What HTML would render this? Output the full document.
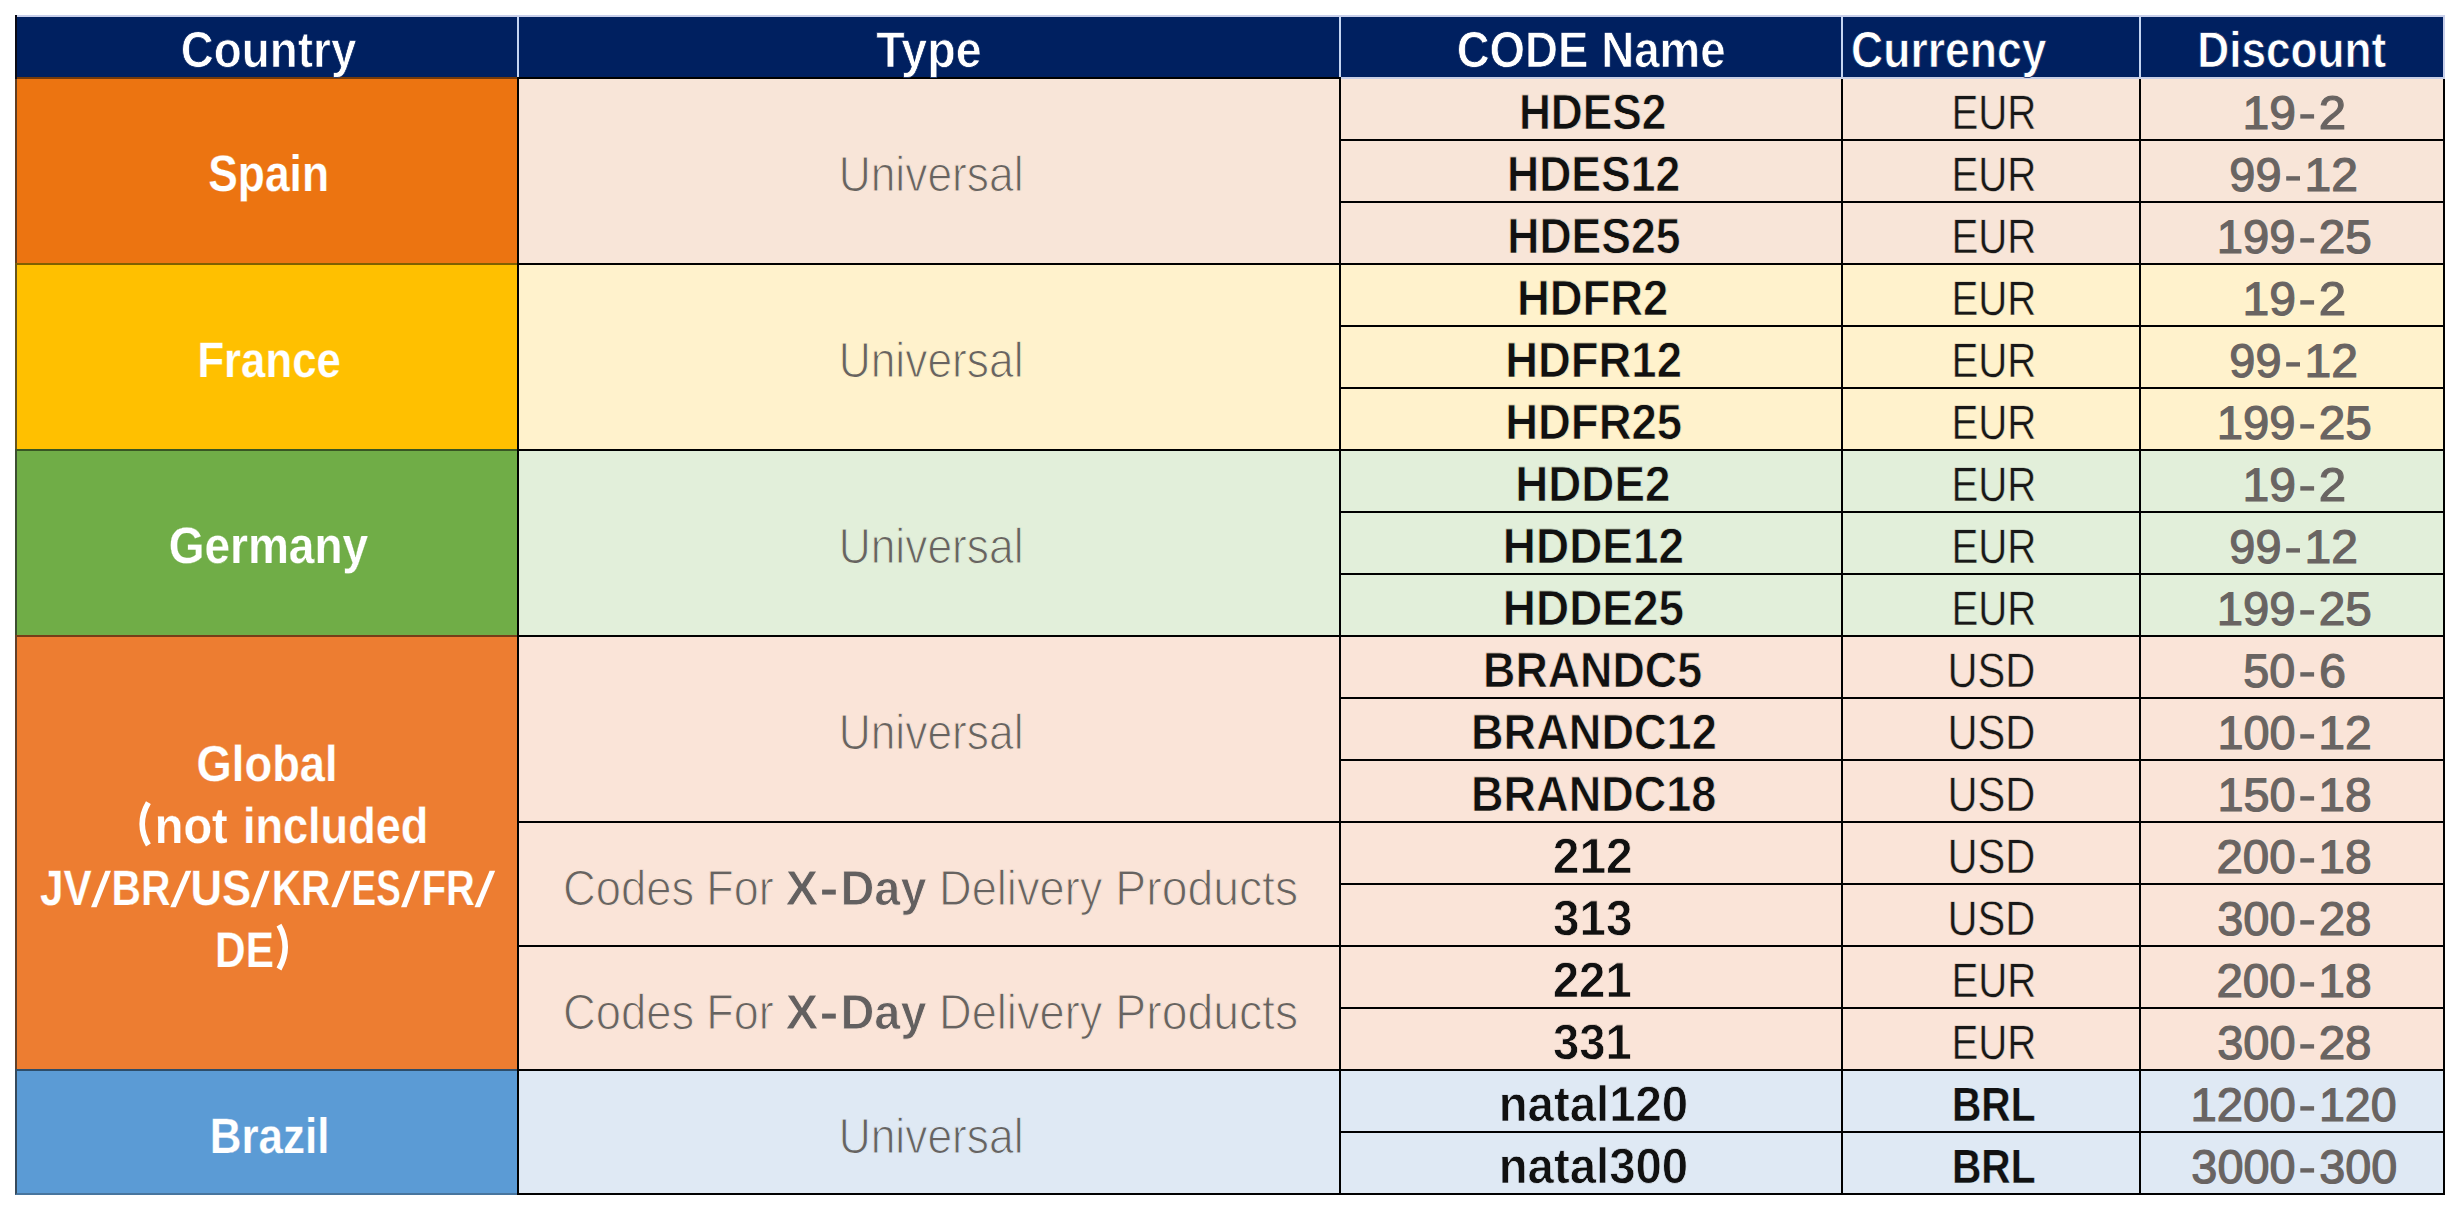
<!DOCTYPE html><html><head><meta charset="utf-8"><title>Discount codes</title><style>html,body{margin:0;padding:0;background:#fff;width:2460px;height:1210px;overflow:hidden}.r{position:absolute}svg text{font-family:"Liberation Sans",sans-serif;text-rendering:geometricPrecision}</style></head><body>
<div class="r" style="left:15px;top:15px;width:2430px;height:64px;background:#002060;"></div>
<div class="r" style="left:15px;top:77px;width:502px;height:188px;background:#EC7411;box-sizing:border-box;border:2px solid rgba(0,0,0,.5);border-left-color:rgba(40,40,40,.7);border-bottom-color:rgba(0,0,0,.5);border-right:none"></div>
<div class="r" style="left:517px;top:77px;width:1928px;height:188px;background:#F8E5D8;"></div>
<div class="r" style="left:15px;top:263px;width:502px;height:188px;background:#FFC000;box-sizing:border-box;border:2px solid rgba(0,0,0,.5);border-left-color:rgba(40,40,40,.7);border-bottom-color:rgba(0,0,0,.5);border-right:none"></div>
<div class="r" style="left:517px;top:263px;width:1928px;height:188px;background:#FFF2CC;"></div>
<div class="r" style="left:15px;top:449px;width:502px;height:188px;background:#70AD47;box-sizing:border-box;border:2px solid rgba(0,0,0,.5);border-left-color:rgba(40,40,40,.7);border-bottom-color:rgba(0,0,0,.5);border-right:none"></div>
<div class="r" style="left:517px;top:449px;width:1928px;height:188px;background:#E2EFDA;"></div>
<div class="r" style="left:15px;top:635px;width:502px;height:436px;background:#ED7D31;box-sizing:border-box;border:2px solid rgba(0,0,0,.5);border-left-color:rgba(40,40,40,.7);border-bottom-color:rgba(0,0,0,.5);border-right:none"></div>
<div class="r" style="left:517px;top:635px;width:1928px;height:436px;background:#FAE4D8;"></div>
<div class="r" style="left:15px;top:1069px;width:502px;height:126px;background:#5B9BD5;box-sizing:border-box;border:2px solid rgba(0,0,0,.5);border-left-color:rgba(40,40,40,.7);border-bottom-color:rgba(30,30,30,.3);border-right:none"></div>
<div class="r" style="left:517px;top:1069px;width:1928px;height:126px;background:#DFE9F4;"></div>
<div class="r" style="left:17px;top:15px;width:2428px;height:2px;background:#C8CFEA;"></div>
<div class="r" style="left:15px;top:15px;width:2px;height:64px;background:#0a0a14;"></div>
<div class="r" style="left:517px;top:17px;width:2px;height:60px;background:#C5D5F2;"></div>
<div class="r" style="left:1339px;top:17px;width:2px;height:60px;background:#C5D5F2;"></div>
<div class="r" style="left:1841px;top:17px;width:2px;height:60px;background:#C5D5F2;"></div>
<div class="r" style="left:2139px;top:17px;width:2px;height:60px;background:#C5D5F2;"></div>
<div class="r" style="left:2443px;top:15px;width:2px;height:64px;background:#C8CFEA;"></div>
<div class="r" style="left:517px;top:77px;width:824px;height:2px;background:#000;"></div>
<div class="r" style="left:1341px;top:77px;width:1104px;height:2px;background:#C9CFE6;"></div>
<div class="r" style="left:517px;top:77px;width:2px;height:1118px;background:#000;"></div>
<div class="r" style="left:1339px;top:77px;width:2px;height:1118px;background:#000;"></div>
<div class="r" style="left:1841px;top:79px;width:2px;height:1116px;background:#000;"></div>
<div class="r" style="left:2139px;top:79px;width:2px;height:1116px;background:#000;"></div>
<div class="r" style="left:2443px;top:79px;width:2px;height:1116px;background:#000;"></div>
<div class="r" style="left:517px;top:263px;width:824px;height:2px;background:#000;"></div>
<div class="r" style="left:517px;top:449px;width:824px;height:2px;background:#000;"></div>
<div class="r" style="left:517px;top:635px;width:824px;height:2px;background:#000;"></div>
<div class="r" style="left:517px;top:821px;width:824px;height:2px;background:#000;"></div>
<div class="r" style="left:517px;top:945px;width:824px;height:2px;background:#000;"></div>
<div class="r" style="left:517px;top:1069px;width:824px;height:2px;background:#000;"></div>
<div class="r" style="left:517px;top:1193px;width:824px;height:2px;background:#000;"></div>
<div class="r" style="left:1339px;top:139px;width:1106px;height:2px;background:#000;"></div>
<div class="r" style="left:1339px;top:201px;width:1106px;height:2px;background:#000;"></div>
<div class="r" style="left:1339px;top:263px;width:1106px;height:2px;background:#000;"></div>
<div class="r" style="left:1339px;top:325px;width:1106px;height:2px;background:#000;"></div>
<div class="r" style="left:1339px;top:387px;width:1106px;height:2px;background:#000;"></div>
<div class="r" style="left:1339px;top:449px;width:1106px;height:2px;background:#000;"></div>
<div class="r" style="left:1339px;top:511px;width:1106px;height:2px;background:#000;"></div>
<div class="r" style="left:1339px;top:573px;width:1106px;height:2px;background:#000;"></div>
<div class="r" style="left:1339px;top:635px;width:1106px;height:2px;background:#000;"></div>
<div class="r" style="left:1339px;top:697px;width:1106px;height:2px;background:#000;"></div>
<div class="r" style="left:1339px;top:759px;width:1106px;height:2px;background:#000;"></div>
<div class="r" style="left:1339px;top:821px;width:1106px;height:2px;background:#000;"></div>
<div class="r" style="left:1339px;top:883px;width:1106px;height:2px;background:#000;"></div>
<div class="r" style="left:1339px;top:945px;width:1106px;height:2px;background:#000;"></div>
<div class="r" style="left:1339px;top:1007px;width:1106px;height:2px;background:#000;"></div>
<div class="r" style="left:1339px;top:1069px;width:1106px;height:2px;background:#000;"></div>
<div class="r" style="left:1339px;top:1131px;width:1106px;height:2px;background:#000;"></div>
<div class="r" style="left:1339px;top:1193px;width:1106px;height:2px;background:#000;"></div>
<svg class="r" style="left:0;top:0" width="2460" height="1210">
<text transform="translate(180.71,67.00) scale(0.9076,1)" font-size="50.51" font-weight="700" fill="#FFFFFF" stroke="#002060" stroke-width="0.75">Country</text>
<text transform="translate(876.33,67.00) scale(0.9228,1)" font-size="50.51" font-weight="700" fill="#FFFFFF" stroke="#002060" stroke-width="0.75">Type</text>
<text transform="translate(1456.63,67.00) scale(0.9041,1)" font-size="50.51" font-weight="700" fill="#FFFFFF" stroke="#002060" stroke-width="0.75">CODE Name</text>
<text transform="translate(1851.12,67.00) scale(0.8810,1)" font-size="50.51" font-weight="700" fill="#FFFFFF" stroke="#002060" stroke-width="0.75">Currency</text>
<text transform="translate(2197.26,67.00) scale(0.8748,1)" font-size="50.51" font-weight="700" fill="#FFFFFF" stroke="#002060" stroke-width="0.75">Discount</text>
<text transform="translate(208.19,191.40) scale(0.8675,1)" font-size="51.16" font-weight="700" fill="#FFFFFF" stroke="#EC7411" stroke-width="0.25">Spain</text>
<text transform="translate(197.41,377.10) scale(0.8794,1)" font-size="49.71" font-weight="700" fill="#FFFFFF" stroke="#FFC000" stroke-width="0.25">France</text>
<text transform="translate(168.73,563.20) scale(0.8990,1)" font-size="51.16" font-weight="700" fill="#FFFFFF" stroke="#70AD47" stroke-width="0.25">Germany</text>
<text transform="translate(196.60,780.80) scale(0.8989,1)" font-size="50.44" font-weight="700" fill="#FFFFFF" stroke="#ED7D31" stroke-width="0.25">Global</text>
<text transform="translate(154.79,842.90) scale(0.9283,1)" font-size="50.44" font-weight="700" fill="#FFFFFF" stroke="#ED7D31" stroke-width="0.25">not</text>
<text transform="translate(242.89,842.90) scale(0.8943,1)" font-size="50.44" font-weight="700" fill="#FFFFFF" stroke="#ED7D31" stroke-width="0.25">included</text>
<text transform="translate(40.08,904.80) scale(0.8516,1)" font-size="49.71" font-weight="700" fill="#FFFFFF" stroke="#ED7D31" stroke-width="0.25">JV</text>
<text transform="translate(111.62,904.80) scale(0.8215,1)" font-size="49.71" font-weight="700" fill="#FFFFFF" stroke="#ED7D31" stroke-width="0.25">BR</text>
<text transform="translate(190.52,904.80) scale(0.8797,1)" font-size="49.71" font-weight="700" fill="#FFFFFF" stroke="#ED7D31" stroke-width="0.25">US</text>
<text transform="translate(271.66,904.80) scale(0.8171,1)" font-size="49.71" font-weight="700" fill="#FFFFFF" stroke="#ED7D31" stroke-width="0.25">KR</text>
<text transform="translate(351.55,904.80) scale(0.7415,1)" font-size="49.71" font-weight="700" fill="#FFFFFF" stroke="#ED7D31" stroke-width="0.25">ES</text>
<text transform="translate(421.77,904.80) scale(0.8006,1)" font-size="49.71" font-weight="700" fill="#FFFFFF" stroke="#ED7D31" stroke-width="0.25">FR</text>
<text transform="translate(215.07,967.30) scale(0.8481,1)" font-size="50.00" font-weight="700" fill="#FFFFFF" stroke="#ED7D31" stroke-width="0.25">DE</text>
<text transform="translate(209.68,1152.90) scale(0.8841,1)" font-size="49.71" font-weight="700" fill="#FFFFFF" stroke="#5B9BD5" stroke-width="0.25">Brazil</text>
<text transform="translate(838.63,191.00) scale(0.8954,1)" font-size="49.56" font-weight="400" fill="#676361" stroke="#F8E5D8" stroke-width="1.1">Universal</text>
<text transform="translate(838.63,377.00) scale(0.8954,1)" font-size="49.56" font-weight="400" fill="#676361" stroke="#FFF2CC" stroke-width="1.1">Universal</text>
<text transform="translate(838.63,563.00) scale(0.8954,1)" font-size="49.56" font-weight="400" fill="#676361" stroke="#E2EFDA" stroke-width="1.1">Universal</text>
<text transform="translate(838.63,749.00) scale(0.8954,1)" font-size="49.56" font-weight="400" fill="#676361" stroke="#FAE4D8" stroke-width="1.1">Universal</text>
<text transform="translate(838.63,1153.00) scale(0.8954,1)" font-size="49.56" font-weight="400" fill="#676361" stroke="#DFE9F4" stroke-width="1.1">Universal</text>
<text transform="translate(562.90,904.80) scale(0.9164,1)" font-size="49.56" font-weight="400" fill="#676361" stroke="#FAE4D8" stroke-width="1.1">Codes</text>
<text transform="translate(706.37,904.80) scale(0.9055,1)" font-size="49.56" font-weight="400" fill="#676361" stroke="#FAE4D8" stroke-width="1.1">For</text>
<text transform="translate(785.50,904.80) scale(1.0007,1)" font-size="49.27" font-weight="700" fill="#636060" stroke="#FAE4D8" stroke-width="0.9">X</text>
<text transform="translate(840.44,904.80) scale(0.9532,1)" font-size="49.27" font-weight="700" fill="#636060" stroke="#FAE4D8" stroke-width="0.9">Day</text>
<text transform="translate(939.02,904.80) scale(0.9126,1)" font-size="49.56" font-weight="400" fill="#676361" stroke="#FAE4D8" stroke-width="1.1">Delivery</text>
<text transform="translate(1115.32,904.80) scale(0.9346,1)" font-size="49.56" font-weight="400" fill="#676361" stroke="#FAE4D8" stroke-width="1.1">Products</text>
<text transform="translate(562.90,1028.80) scale(0.9164,1)" font-size="49.56" font-weight="400" fill="#676361" stroke="#FAE4D8" stroke-width="1.1">Codes</text>
<text transform="translate(706.37,1028.80) scale(0.9055,1)" font-size="49.56" font-weight="400" fill="#676361" stroke="#FAE4D8" stroke-width="1.1">For</text>
<text transform="translate(785.50,1028.80) scale(1.0007,1)" font-size="49.27" font-weight="700" fill="#636060" stroke="#FAE4D8" stroke-width="0.9">X</text>
<text transform="translate(840.44,1028.80) scale(0.9532,1)" font-size="49.27" font-weight="700" fill="#636060" stroke="#FAE4D8" stroke-width="0.9">Day</text>
<text transform="translate(939.02,1028.80) scale(0.9126,1)" font-size="49.56" font-weight="400" fill="#676361" stroke="#FAE4D8" stroke-width="1.1">Delivery</text>
<text transform="translate(1115.32,1028.80) scale(0.9346,1)" font-size="49.56" font-weight="400" fill="#676361" stroke="#FAE4D8" stroke-width="1.1">Products</text>
<text transform="translate(1518.88,128.90) scale(0.8894,1)" font-size="49.78" font-weight="700" fill="#111111" stroke="#F8E5D8" stroke-width="0.75">HDES2</text>
<text transform="translate(1507.02,190.90) scale(0.8950,1)" font-size="49.78" font-weight="700" fill="#111111" stroke="#F8E5D8" stroke-width="0.75">HDES12</text>
<text transform="translate(1507.26,252.90) scale(0.8953,1)" font-size="49.78" font-weight="700" fill="#111111" stroke="#F8E5D8" stroke-width="0.75">HDES25</text>
<text transform="translate(1516.98,314.90) scale(0.9126,1)" font-size="49.78" font-weight="700" fill="#111111" stroke="#FFF2CC" stroke-width="0.75">HDFR2</text>
<text transform="translate(1505.15,376.90) scale(0.9132,1)" font-size="49.78" font-weight="700" fill="#111111" stroke="#FFF2CC" stroke-width="0.75">HDFR12</text>
<text transform="translate(1505.15,438.90) scale(0.9140,1)" font-size="49.78" font-weight="700" fill="#111111" stroke="#FFF2CC" stroke-width="0.75">HDFR25</text>
<text transform="translate(1515.18,500.90) scale(0.9201,1)" font-size="49.78" font-weight="700" fill="#111111" stroke="#E2EFDA" stroke-width="0.75">HDDE2</text>
<text transform="translate(1502.81,562.90) scale(0.9227,1)" font-size="49.78" font-weight="700" fill="#111111" stroke="#E2EFDA" stroke-width="0.75">HDDE12</text>
<text transform="translate(1502.81,624.90) scale(0.9227,1)" font-size="49.78" font-weight="700" fill="#111111" stroke="#E2EFDA" stroke-width="0.75">HDDE25</text>
<text transform="translate(1483.04,686.90) scale(0.9001,1)" font-size="49.78" font-weight="700" fill="#111111" stroke="#FAE4D8" stroke-width="0.75">BRANDC5</text>
<text transform="translate(1471.00,748.90) scale(0.9070,1)" font-size="49.78" font-weight="700" fill="#111111" stroke="#FAE4D8" stroke-width="0.75">BRANDC12</text>
<text transform="translate(1471.01,810.90) scale(0.9055,1)" font-size="49.78" font-weight="700" fill="#111111" stroke="#FAE4D8" stroke-width="0.75">BRANDC18</text>
<text transform="translate(1552.71,872.90) scale(0.9635,1)" font-size="49.78" font-weight="700" fill="#111111" stroke="#FAE4D8" stroke-width="0.75">212</text>
<text transform="translate(1552.89,934.90) scale(0.9574,1)" font-size="49.78" font-weight="700" fill="#111111" stroke="#FAE4D8" stroke-width="0.75">313</text>
<text transform="translate(1552.74,996.90) scale(0.9528,1)" font-size="49.78" font-weight="700" fill="#111111" stroke="#FAE4D8" stroke-width="0.75">221</text>
<text transform="translate(1552.91,1058.90) scale(0.9486,1)" font-size="49.78" font-weight="700" fill="#111111" stroke="#FAE4D8" stroke-width="0.75">331</text>
<text transform="translate(1498.68,1120.90) scale(0.9514,1)" font-size="49.78" font-weight="700" fill="#111111" stroke="#DFE9F4" stroke-width="0.75">natal120</text>
<text transform="translate(1498.68,1182.90) scale(0.9514,1)" font-size="49.78" font-weight="700" fill="#111111" stroke="#DFE9F4" stroke-width="0.75">natal300</text>
<text transform="translate(1951.40,128.90) scale(0.8317,1)" font-size="48.40" font-weight="400" fill="#181818" stroke="#F8E5D8" stroke-width="0.5">EUR</text>
<text transform="translate(1951.40,190.90) scale(0.8317,1)" font-size="48.40" font-weight="400" fill="#181818" stroke="#F8E5D8" stroke-width="0.5">EUR</text>
<text transform="translate(1951.40,252.90) scale(0.8317,1)" font-size="48.40" font-weight="400" fill="#181818" stroke="#F8E5D8" stroke-width="0.5">EUR</text>
<text transform="translate(1951.40,314.90) scale(0.8317,1)" font-size="48.40" font-weight="400" fill="#181818" stroke="#FFF2CC" stroke-width="0.5">EUR</text>
<text transform="translate(1951.40,376.90) scale(0.8317,1)" font-size="48.40" font-weight="400" fill="#181818" stroke="#FFF2CC" stroke-width="0.5">EUR</text>
<text transform="translate(1951.40,438.90) scale(0.8317,1)" font-size="48.40" font-weight="400" fill="#181818" stroke="#FFF2CC" stroke-width="0.5">EUR</text>
<text transform="translate(1951.40,500.90) scale(0.8317,1)" font-size="48.40" font-weight="400" fill="#181818" stroke="#E2EFDA" stroke-width="0.5">EUR</text>
<text transform="translate(1951.40,562.90) scale(0.8317,1)" font-size="48.40" font-weight="400" fill="#181818" stroke="#E2EFDA" stroke-width="0.5">EUR</text>
<text transform="translate(1951.40,624.90) scale(0.8317,1)" font-size="48.40" font-weight="400" fill="#181818" stroke="#E2EFDA" stroke-width="0.5">EUR</text>
<text transform="translate(1947.43,686.90) scale(0.8612,1)" font-size="48.40" font-weight="400" fill="#181818" stroke="#FAE4D8" stroke-width="0.5">USD</text>
<text transform="translate(1947.43,748.90) scale(0.8612,1)" font-size="48.40" font-weight="400" fill="#181818" stroke="#FAE4D8" stroke-width="0.5">USD</text>
<text transform="translate(1947.43,810.90) scale(0.8612,1)" font-size="48.40" font-weight="400" fill="#181818" stroke="#FAE4D8" stroke-width="0.5">USD</text>
<text transform="translate(1947.43,872.90) scale(0.8612,1)" font-size="48.40" font-weight="400" fill="#181818" stroke="#FAE4D8" stroke-width="0.5">USD</text>
<text transform="translate(1947.43,934.90) scale(0.8612,1)" font-size="48.40" font-weight="400" fill="#181818" stroke="#FAE4D8" stroke-width="0.5">USD</text>
<text transform="translate(1951.40,996.90) scale(0.8317,1)" font-size="48.40" font-weight="400" fill="#181818" stroke="#FAE4D8" stroke-width="0.5">EUR</text>
<text transform="translate(1951.40,1058.90) scale(0.8317,1)" font-size="48.40" font-weight="400" fill="#181818" stroke="#FAE4D8" stroke-width="0.5">EUR</text>
<text transform="translate(1952.04,1120.90) scale(0.8440,1)" font-size="48.11" font-weight="700" fill="#111111" stroke="#DFE9F4" stroke-width="0.3">BRL</text>
<text transform="translate(1952.04,1182.90) scale(0.8440,1)" font-size="48.11" font-weight="700" fill="#111111" stroke="#DFE9F4" stroke-width="0.3">BRL</text>
<text transform="translate(2242.57,128.90) scale(1.0204,1)" font-size="47.09" font-weight="400" fill="#696462" stroke="#696462" stroke-width="1.2">19</text>
<text transform="translate(2318.66,128.90) scale(1.0447,1)" font-size="47.09" font-weight="400" fill="#696462" stroke="#696462" stroke-width="1.2">2</text>
<text transform="translate(2229.36,190.90) scale(0.9950,1)" font-size="47.09" font-weight="400" fill="#696462" stroke="#696462" stroke-width="1.2">99</text>
<text transform="translate(2304.59,190.90) scale(1.0200,1)" font-size="47.09" font-weight="400" fill="#696462" stroke="#696462" stroke-width="1.2">12</text>
<text transform="translate(2216.81,252.90) scale(1.0023,1)" font-size="47.09" font-weight="400" fill="#696462" stroke="#696462" stroke-width="1.2">199</text>
<text transform="translate(2318.68,252.90) scale(1.0140,1)" font-size="47.09" font-weight="400" fill="#696462" stroke="#696462" stroke-width="1.2">25</text>
<text transform="translate(2242.57,314.90) scale(1.0204,1)" font-size="47.09" font-weight="400" fill="#696462" stroke="#696462" stroke-width="1.2">19</text>
<text transform="translate(2318.66,314.90) scale(1.0447,1)" font-size="47.09" font-weight="400" fill="#696462" stroke="#696462" stroke-width="1.2">2</text>
<text transform="translate(2229.36,376.90) scale(0.9950,1)" font-size="47.09" font-weight="400" fill="#696462" stroke="#696462" stroke-width="1.2">99</text>
<text transform="translate(2304.59,376.90) scale(1.0200,1)" font-size="47.09" font-weight="400" fill="#696462" stroke="#696462" stroke-width="1.2">12</text>
<text transform="translate(2216.81,438.90) scale(1.0023,1)" font-size="47.09" font-weight="400" fill="#696462" stroke="#696462" stroke-width="1.2">199</text>
<text transform="translate(2318.68,438.90) scale(1.0140,1)" font-size="47.09" font-weight="400" fill="#696462" stroke="#696462" stroke-width="1.2">25</text>
<text transform="translate(2242.57,500.90) scale(1.0204,1)" font-size="47.09" font-weight="400" fill="#696462" stroke="#696462" stroke-width="1.2">19</text>
<text transform="translate(2318.66,500.90) scale(1.0447,1)" font-size="47.09" font-weight="400" fill="#696462" stroke="#696462" stroke-width="1.2">2</text>
<text transform="translate(2229.36,562.90) scale(0.9950,1)" font-size="47.09" font-weight="400" fill="#696462" stroke="#696462" stroke-width="1.2">99</text>
<text transform="translate(2304.59,562.90) scale(1.0200,1)" font-size="47.09" font-weight="400" fill="#696462" stroke="#696462" stroke-width="1.2">12</text>
<text transform="translate(2216.81,624.90) scale(1.0023,1)" font-size="47.09" font-weight="400" fill="#696462" stroke="#696462" stroke-width="1.2">199</text>
<text transform="translate(2318.68,624.90) scale(1.0140,1)" font-size="47.09" font-weight="400" fill="#696462" stroke="#696462" stroke-width="1.2">25</text>
<text transform="translate(2243.15,686.90) scale(0.9937,1)" font-size="47.09" font-weight="400" fill="#696462" stroke="#696462" stroke-width="1.2">50</text>
<text transform="translate(2318.88,686.90) scale(1.0315,1)" font-size="47.09" font-weight="400" fill="#696462" stroke="#696462" stroke-width="1.2">6</text>
<text transform="translate(2217.45,748.90) scale(0.9944,1)" font-size="47.09" font-weight="400" fill="#696462" stroke="#696462" stroke-width="1.2">100</text>
<text transform="translate(2318.19,748.90) scale(1.0222,1)" font-size="47.09" font-weight="400" fill="#696462" stroke="#696462" stroke-width="1.2">12</text>
<text transform="translate(2217.45,810.90) scale(0.9944,1)" font-size="47.09" font-weight="400" fill="#696462" stroke="#696462" stroke-width="1.2">150</text>
<text transform="translate(2318.19,810.90) scale(1.0198,1)" font-size="47.09" font-weight="400" fill="#696462" stroke="#696462" stroke-width="1.2">18</text>
<text transform="translate(2216.40,872.90) scale(1.0092,1)" font-size="47.09" font-weight="400" fill="#696462" stroke="#696462" stroke-width="1.2">200</text>
<text transform="translate(2318.19,872.90) scale(1.0198,1)" font-size="47.09" font-weight="400" fill="#696462" stroke="#696462" stroke-width="1.2">18</text>
<text transform="translate(2217.22,934.90) scale(0.9985,1)" font-size="47.09" font-weight="400" fill="#696462" stroke="#696462" stroke-width="1.2">300</text>
<text transform="translate(2318.69,934.90) scale(1.0088,1)" font-size="47.09" font-weight="400" fill="#696462" stroke="#696462" stroke-width="1.2">28</text>
<text transform="translate(2216.40,996.90) scale(1.0092,1)" font-size="47.09" font-weight="400" fill="#696462" stroke="#696462" stroke-width="1.2">200</text>
<text transform="translate(2318.19,996.90) scale(1.0198,1)" font-size="47.09" font-weight="400" fill="#696462" stroke="#696462" stroke-width="1.2">18</text>
<text transform="translate(2217.22,1058.90) scale(0.9985,1)" font-size="47.09" font-weight="400" fill="#696462" stroke="#696462" stroke-width="1.2">300</text>
<text transform="translate(2318.69,1058.90) scale(1.0088,1)" font-size="47.09" font-weight="400" fill="#696462" stroke="#696462" stroke-width="1.2">28</text>
<text transform="translate(2190.46,1120.90) scale(1.0048,1)" font-size="47.09" font-weight="400" fill="#696462" stroke="#696462" stroke-width="1.2">1200</text>
<text transform="translate(2318.95,1120.90) scale(0.9896,1)" font-size="47.09" font-weight="400" fill="#696462" stroke="#696462" stroke-width="1.2">120</text>
<text transform="translate(2191.34,1182.90) scale(0.9948,1)" font-size="47.09" font-weight="400" fill="#696462" stroke="#696462" stroke-width="1.2">3000</text>
<text transform="translate(2319.24,1182.90) scale(0.9930,1)" font-size="47.09" font-weight="400" fill="#696462" stroke="#696462" stroke-width="1.2">300</text>
<polygon points="91.00,907.30 96.60,907.30 111.00,870.70 105.40,870.70" fill="#FFFFFF"/>
<polygon points="170.20,907.30 175.80,907.30 191.40,870.70 185.80,870.70" fill="#FFFFFF"/>
<polygon points="250.50,907.30 256.10,907.30 269.80,870.70 264.20,870.70" fill="#FFFFFF"/>
<polygon points="331.20,907.30 336.80,907.30 351.20,870.70 345.60,870.70" fill="#FFFFFF"/>
<polygon points="401.00,907.30 406.60,907.30 420.50,870.70 414.90,870.70" fill="#FFFFFF"/>
<polygon points="474.50,907.30 480.10,907.30 495.20,870.70 489.60,870.70" fill="#FFFFFF"/>
<path d="M 148.4 802.6 Q 136.0 823.8 148.4 845.0" fill="none" stroke="#FFFFFF" stroke-width="5.6"/>
<path d="M 279.0 925.2 Q 291.4 947.1 279.0 969.0" fill="none" stroke="#FFFFFF" stroke-width="5.6"/>
<rect x="822.10" y="889.60" width="13.70" height="5.00" fill="#636060"/>
<rect x="822.10" y="1013.60" width="13.70" height="5.00" fill="#636060"/>
<rect x="2300.30" y="114.20" width="13.80" height="4.40" fill="#696462"/>
<rect x="2286.20" y="176.20" width="13.80" height="4.40" fill="#696462"/>
<rect x="2300.30" y="238.20" width="13.80" height="4.40" fill="#696462"/>
<rect x="2300.30" y="300.20" width="13.80" height="4.40" fill="#696462"/>
<rect x="2286.20" y="362.20" width="13.80" height="4.40" fill="#696462"/>
<rect x="2300.30" y="424.20" width="13.80" height="4.40" fill="#696462"/>
<rect x="2300.30" y="486.20" width="13.80" height="4.40" fill="#696462"/>
<rect x="2286.20" y="548.20" width="13.80" height="4.40" fill="#696462"/>
<rect x="2300.30" y="610.20" width="13.80" height="4.40" fill="#696462"/>
<rect x="2300.30" y="672.20" width="13.80" height="4.40" fill="#696462"/>
<rect x="2300.30" y="734.20" width="13.80" height="4.40" fill="#696462"/>
<rect x="2300.30" y="796.20" width="13.80" height="4.40" fill="#696462"/>
<rect x="2300.30" y="858.20" width="13.80" height="4.40" fill="#696462"/>
<rect x="2300.30" y="920.20" width="13.80" height="4.40" fill="#696462"/>
<rect x="2300.30" y="982.20" width="13.80" height="4.40" fill="#696462"/>
<rect x="2300.30" y="1044.20" width="13.80" height="4.40" fill="#696462"/>
<rect x="2300.30" y="1106.20" width="13.80" height="4.40" fill="#696462"/>
<rect x="2300.30" y="1168.20" width="13.80" height="4.40" fill="#696462"/>
</svg></body></html>
